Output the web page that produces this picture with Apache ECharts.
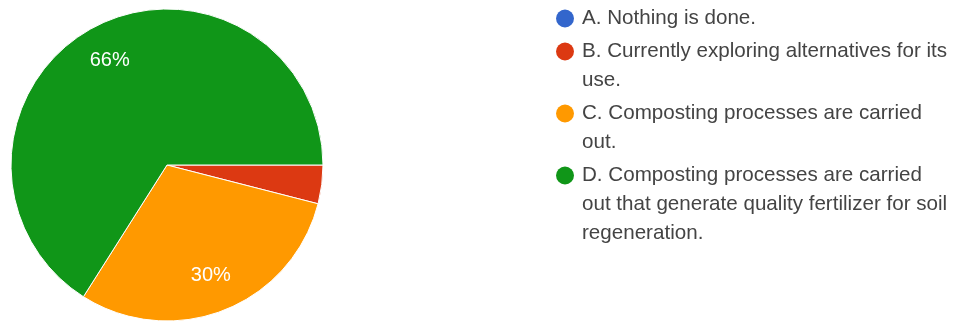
<!DOCTYPE html>
<html>
<head>
<meta charset="utf-8">
<script src="https://cdn.jsdelivr.net/npm/echarts@6/dist/echarts.min.js"></script>
<style>
  html, body { margin: 0; padding: 0; background: #fff; }
  #chart { width: 960px; height: 322px; }
</style>
</head>
<body>
<div id="chart"></div>
<script>
// Answer options and their share of responses (percent)
const categories = [
  'A. Nothing is done.',
  'B. Currently exploring alternatives for its use.',
  'C. Composting processes are carried out.',
  'D. Composting processes are carried out that generate quality fertilizer for soil regeneration.'
];
const values = [0, 4, 30, 66];
const colors = ['#3366cc', '#dc3912', '#ff9900', '#109618'];
// Legend text split into the lines shown beside each dot
const legendLines = [
  ['A. Nothing is done.'],
  ['B. Currently exploring alternatives for its', 'use.'],
  ['C. Composting processes are carried', 'out.'],
  ['D. Composting processes are carried', 'out that generate quality fertilizer for soil', 'regeneration.']
];

const FONT = '"Liberation Sans", Arial, sans-serif';
const data = categories.map((name, i) => ({ name, value: values[i], itemStyle: { color: colors[i] } }));

const rich = {
  t: { fontFamily: FONT, fontSize: 20.6, lineHeight: 29, color: '#444', verticalAlign: 'middle' },
  gap: { width: 8, height: 18 },
  pad: { width: 26, height: 18 }
};
colors.forEach((c, i) => {
  rich['dot' + i] = { width: 18, height: 18, borderRadius: 9, backgroundColor: c, verticalAlign: 'middle' };
});

const chart = echarts.init(document.getElementById('chart'), null, { renderer: 'canvas' });
chart.setOption({
  animation: false,
  backgroundColor: '#fff',
  legend: {
    orient: 'vertical',
    left: 550,
    top: 4,
    padding: 0,
    itemWidth: 0,
    itemHeight: 0,
    itemGap: 4,
    selectedMode: false,
    data: categories,
    textStyle: { fontFamily: FONT, fontSize: 20.6, lineHeight: 29, color: '#444', rich },
    formatter: name => {
      const i = categories.indexOf(name);
      return legendLines[i].map((line, k) =>
        (k === 0 ? `{dot${i}|}{gap|}` : '{pad|}') + `{t|${line}}`
      ).join('\n');
    }
  },
  series: [
    {
      // visible slices
      type: 'pie',
      center: [167, 165],
      radius: 156,
      startAngle: 0,
      clockwise: true,
      data,
      label: { show: false },
      labelLine: { show: false },
      itemStyle: { borderColor: '#fff', borderWidth: 1 },
      emphasis: { scale: false }
    },
    {
      // transparent ring that carries the percentage labels at ~3/4 radius
      type: 'pie',
      center: [167, 165],
      radius: [76, 156],
      startAngle: 0,
      clockwise: true,
      silent: true,
      data: categories.map((name, i) => ({ name, value: values[i] })),
      itemStyle: { color: 'rgba(0,0,0,0)', borderWidth: 0 },
      label: {
        show: true,
        position: 'inside',
        fontFamily: FONT,
        fontSize: 20,
        color: '#fff',
        formatter: p => (p.percent >= 5 ? Math.round(p.percent) + '%' : '')
      },
      labelLine: { show: false },
      emphasis: { disabled: true }
    }
  ]
});
</script>
</body>
</html>
